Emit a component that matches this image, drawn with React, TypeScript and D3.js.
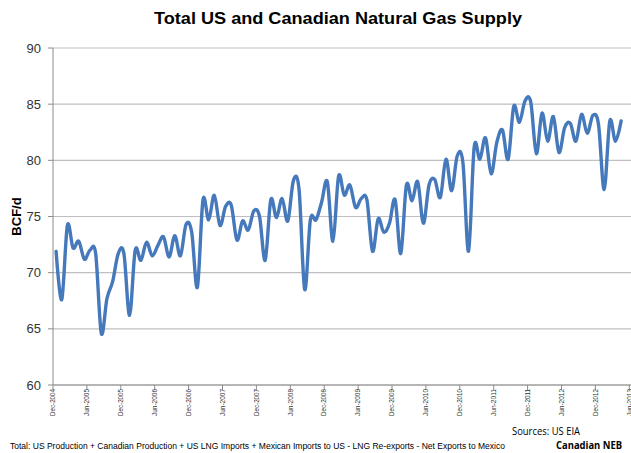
import React from "react";
import * as d3 from "d3";

const TITLE = "Total US and Canadian Natural Gas Supply";
const Y_LABEL = "BCF/d";
const FOOTNOTE =
  "Total: US Production + Canadian  Production + US LNG Imports + Mexican Imports to US - LNG Re-exports - Net Exports to Mexico";
const SOURCE1 = "Sources: US EIA";
const SOURCE2 = "Canadian NEB";

const yTicks = [60, 65, 70, 75, 80, 85, 90];

const xTickLabels = [
  "Dec-2004", "Jun-2005", "Dec-2005", "Jun-2006", "Dec-2006", "Jun-2007",
  "Dec-2007", "Jun-2008", "Dec-2008", "Jun-2009", "Dec-2009", "Jun-2010",
  "Dec-2010", "Jun-2011", "Dec-2011", "Jun-2012", "Dec-2012", "Jun-2013",
];

// monthly supply, BCF/d
const supply = [
  71.9, 67.6, 74.2, 72.2, 72.8, 71.2, 72.0, 71.7, 64.6, 67.7,
  69.2, 71.7, 71.7, 66.2, 72.0, 71.1, 72.7, 71.5, 72.4, 73.2,
  71.4, 73.3, 71.5, 74.3, 73.6, 68.7, 76.5, 74.7, 76.9, 74.2,
  75.9, 76.0, 72.9, 74.6, 73.8, 75.5, 75.0, 71.1, 76.5, 74.9,
  76.6, 74.6, 78.2, 77.4, 68.5, 74.7, 74.7, 76.3, 78.1, 72.8,
  78.6, 76.9, 77.8, 75.8, 76.6, 76.5, 71.9, 74.8, 73.6, 74.4,
  76.5, 71.7, 77.8, 76.4, 78.1, 74.4, 77.8, 78.3, 76.7, 80.1,
  77.3, 80.4, 79.8, 71.9, 81.2, 80.1, 82.0, 78.8, 81.6, 82.7,
  80.1, 84.8, 83.4, 85.3, 85.2, 80.6, 84.2, 81.7, 83.9, 80.7,
  82.9, 83.3, 81.7, 84.1, 82.4, 84.0, 83.2, 77.4, 83.5, 81.7,
  83.5,
];

const W = 631;
const H = 453;
const PLOT_L = 53;
const PLOT_R = 631;
const PLOT_T = 48;
const PLOT_B = 385;
const MONTHS_SPAN = 102.3;
const POINT_OFFSET = 0.55;

export default function App() {
  const x = d3.scaleLinear().domain([0, MONTHS_SPAN]).range([PLOT_L, PLOT_R]);
  const y = d3.scaleLinear().domain([60, 90]).range([PLOT_B, PLOT_T]);

  const line = d3
    .line<number>()
    .x((_, i) => x(i + POINT_OFFSET))
    .y((d) => y(d))
    .curve(d3.curveCatmullRom.alpha(0));

  const font = "'Liberation Sans', Arial, sans-serif";
  const narrow = "'Open Sans', 'Liberation Sans', sans-serif";

  return (
    <div style={{ position: "absolute", left: 0, top: 0 }}>
      <svg width={W} height={H} style={{ display: "block", background: "#fff" }}>
        <text
          x={338}
          y={24}
          textAnchor="middle"
          fontFamily={font}
          fontWeight="bold"
          fontSize={17}
          textLength={368}
          lengthAdjust="spacingAndGlyphs"
          fill="#000"
        >
          {TITLE}
        </text>

        {/* gridlines */}
        {yTicks.map((t) => (
          <line
            key={"g" + t}
            x1={PLOT_L}
            x2={PLOT_R}
            y1={y(t)}
            y2={y(t)}
            stroke="#bfbfbf"
            strokeWidth={1.2}
          />
        ))}

        {/* y axis */}
        <line x1={PLOT_L} x2={PLOT_L} y1={PLOT_T} y2={PLOT_B} stroke="#8c8c8c" strokeWidth={1} />
        {yTicks.map((t) => (
          <g key={"yt" + t}>
            <line x1={PLOT_L - 5} x2={PLOT_L} y1={y(t)} y2={y(t)} stroke="#8c8c8c" />
            <text
              x={41}
              y={y(t)}
              dy="0.35em"
              textAnchor="end"
              fontFamily={font}
              fontSize={13}
              fill="#333"
            >
              {t}
            </text>
          </g>
        ))}

        <text
          transform={`translate(21,${(PLOT_T + PLOT_B) / 2}) rotate(-90)`}
          textAnchor="middle"
          fontFamily={font}
          fontWeight="bold"
          fontSize={13}
          fill="#000"
        >
          {Y_LABEL}
        </text>

        {/* x axis */}
        <line x1={PLOT_L} x2={PLOT_R} y1={PLOT_B} y2={PLOT_B} stroke="#8c8c8c" strokeWidth={1} />
        {xTickLabels.map((lab, k) => {
          const xx = x(k * 6);
          return (
            <g key={lab}>
              <line x1={xx} x2={xx} y1={PLOT_B} y2={PLOT_B + 5} stroke="#8c8c8c" />
              <text
                transform={`translate(${xx + 2.2},${PLOT_B + 4}) rotate(-90)`}
                textAnchor="end"
                fontFamily={font}
                fontSize={6.5}
                textLength={27}
                lengthAdjust="spacingAndGlyphs"
                fill="#333"
              >
                {lab}
              </text>
            </g>
          );
        })}

        {/* series */}
        <path
          d={line(supply) || ""}
          fill="none"
          stroke="#4579bb"
          strokeWidth={3.4}
          strokeLinejoin="round"
          strokeLinecap="round"
        />

        <text x={512} y={435} fontFamily={narrow} fontSize={11} textLength={68} lengthAdjust="spacingAndGlyphs" fill="#000">
          {SOURCE1}
        </text>
        <text x={556} y={449} fontFamily={narrow} fontSize={10.5} fontWeight="bold" textLength={66} lengthAdjust="spacingAndGlyphs" fill="#000">
          {SOURCE2}
        </text>
        <text x={10} y={449} fontFamily={font} fontSize={8.3} textLength={495} lengthAdjust="spacingAndGlyphs" fill="#000">
          {FOOTNOTE}
        </text>
      </svg>
    </div>
  );
}
